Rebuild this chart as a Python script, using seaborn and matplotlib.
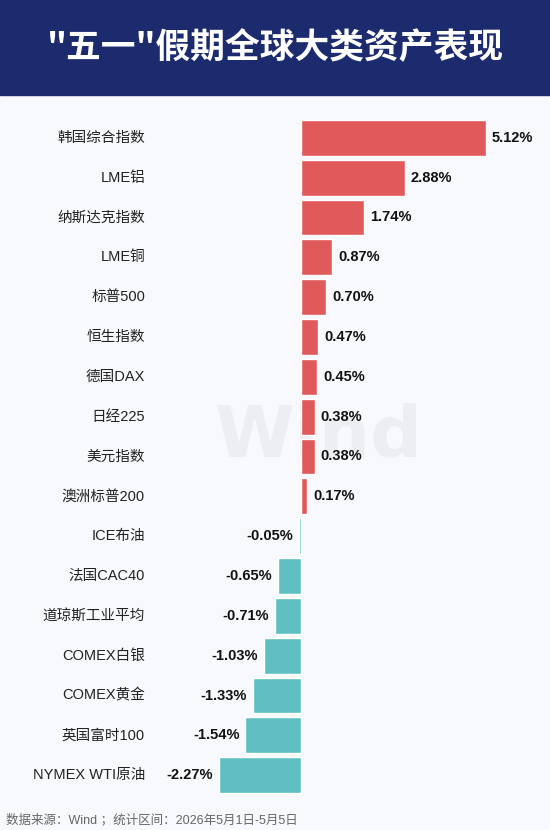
import matplotlib
matplotlib.use("Agg")
import matplotlib.pyplot as plt
import seaborn as sns
import pandas as pd
from matplotlib.patches import Rectangle

assets = ["韩国综合指数", "LME铝", "纳斯达克指数", "LME铜", "标普500", "恒生指数",
          "德国DAX", "日经225", "美元指数", "澳洲标普200", "ICE布油", "法国CAC40",
          "道琼斯工业平均", "COMEX白银", "COMEX黄金", "英国富时100", "NYMEX WTI原油"]
returns = [5.12, 2.88, 1.74, 0.87, 0.70, 0.47, 0.45, 0.38, 0.38, 0.17,
           -0.05, -0.65, -0.71, -1.03, -1.33, -1.54, -2.27]

df = pd.DataFrame({"asset": assets, "ret": returns})
df["sign"] = ["pos" if v >= 0 else "neg" for v in returns]

sns.set_theme(style="white")
plt.rcParams["font.family"] = ["Liberation Sans", "Noto Sans CJK SC", "DejaVu Sans"]

fig = plt.figure(figsize=(5.5, 8.3), dpi=100)
fig.patch.set_facecolor("#f7f9fc")

# header banner
fig.patches.append(Rectangle((0, 0.886), 1, 0.114, transform=fig.transFigure,
                             color="#1c2b6e", zorder=0))
fig.text(0.5, 0.943, "\"五一\"假期全球大类资产表现", color="white", fontsize=25,
         fontweight="bold", ha="center", va="center",
         family=["Noto Sans CJK SC", "DejaVu Sans"])

ax = fig.add_axes([0, 0.042, 1, 0.816])
ax.set_facecolor("#f7f9fc")
sns.barplot(data=df, x="ret", y="asset", hue="sign", orient="h",
            palette={"pos": "#e05a5c", "neg": "#5fbfc1"}, width=0.9,
            saturation=1, dodge=False, legend=False, ax=ax)

scale = 36.1
ax.set_xlim(-301 / scale, (550 - 301) / scale)
ax.set_ylim(16.5, -0.5)
ax.axis("off")

# watermark
ax.text(0.5, 7.5, "Wind", fontsize=52, fontweight="bold", color="#eceef2",
        ha="center", va="center", zorder=0, family="DejaVu Sans")

for i, (name, v) in enumerate(zip(assets, returns)):
    ax.text(-156 / scale, i, name, ha="right", va="center", fontsize=10.5, color="#222222")
    off = 6 / scale
    if v >= 0:
        ax.text(v + off, i, f"{v:.2f}%", ha="left", va="center", fontsize=10.5,
                fontweight="bold", color="#111111")
    else:
        ax.text(v - off, i, f"{v:.2f}%", ha="right", va="center", fontsize=10.5,
                fontweight="bold", color="#111111")

fig.text(0.01, 0.012, "数据来源：Wind ；统计区间：2026年5月1日-5月5日",
         fontsize=9, color="#666666", ha="left", va="center")

fig.savefig("out.png", dpi=100, facecolor=fig.get_facecolor())
